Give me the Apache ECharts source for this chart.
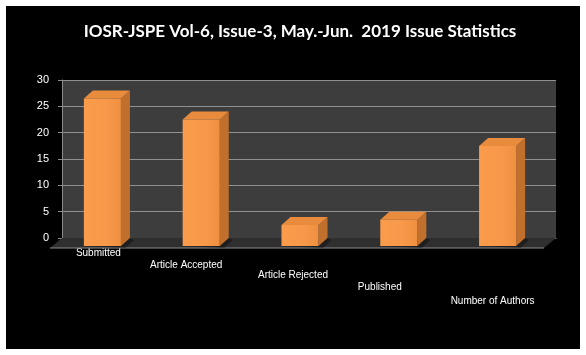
<!DOCTYPE html>
<html>
<head>
<meta charset="utf-8">
<script src="https://cdn.jsdelivr.net/npm/echarts@6/dist/echarts.min.js"></script>
<style>
html,body{margin:0;padding:0;background:#ffffff;}
#wrap{position:absolute;left:6px;top:6px;width:574px;height:343px;background:#000;}
#chart{width:574px;height:343px;}
</style>
</head>
<body>
<div id="wrap"><div id="chart"></div></div>
<script>
// ---- data ----
const title = 'IOSR-JSPE Vol-6, Issue-3, May.-Jun.  2019 Issue Statistics';
const categories = ['Submitted', 'Article Accepted', 'Article Rejected', 'Published', 'Number of Authors'];
const values = [28, 24, 4, 5, 19];
const yMin = 0, yMax = 30, yStep = 5;

// ---- styling (not data) ----
const labelDrop = [0, 12, 22, 34, 48];
const labelShift = [26, 48, 32, 56, 28];
const DX = 9, DY = 8;     // depth offset of bars
const FX = 12, FY = 10;   // floor depth

const chart = echarts.init(document.getElementById('chart'), null, {renderer: 'canvas'});

const rich = {};
categories.forEach((c, i) => {
  rich['l' + i] = {
    color: '#ffffff', fontSize: 10, fontFamily: 'Liberation Sans',
    padding: [labelDrop[i], labelShift[i], 0, 0]
  };
});

function barItem(params, api) {
  const i = api.value(0), v = api.value(1);
  const b = api.coord([i, 0]);
  const t = api.coord([i, v]);
  const w = api.size([1, 0])[0] * 0.375;
  const bl = b[0] - w / 2, br = b[0] + w / 2;
  const fl = bl - DX, fr = br - DX;
  const fTop = t[1] + DY, fBot = b[1] + DY;
  return {
    type: 'group',
    children: [
      { type: 'polygon', shape: { points: [[fl, fBot], [fr + DX * 0.5, fBot + 2], [br + 4, b[1] + 2], [br, b[1]]] },
        style: { fill: 'rgba(0,0,0,0.35)' } },
      { type: 'polygon', shape: { points: [[fr, fTop], [br, t[1]], [br, b[1]], [fr, fBot]] },
        style: { fill: '#c06f2c' } },
      { type: 'polygon', shape: { points: [[fl, fTop], [fr, fTop], [br, t[1]], [bl, t[1]]] },
        style: { fill: '#e88b3d' } },
      { type: 'rect', shape: { x: fl, y: fTop, width: w, height: fBot - fTop },
        style: { fill: new echarts.graphic.LinearGradient(0, 0, 1, 0, [
          { offset: 0, color: '#fa9c4c' }, { offset: 0.6, color: '#f8984a' }, { offset: 1, color: '#ef8f40' }]) } }
    ]
  };
}

function floorItem(params, api) {
  const cs = params.coordSys;
  const y0 = cs.y + cs.height;
  return {
    type: 'group',
    children: [
      { type: 'polygon', shape: { points: [[cs.x, y0], [cs.x + cs.width, y0], [cs.x + cs.width - FX, y0 + FY], [cs.x - FX, y0 + FY]] },
        style: { fill: '#2f2f2f' } },
      { type: 'line', shape: { x1: cs.x - FX, y1: y0 + FY, x2: cs.x + cs.width - FX, y2: y0 + FY },
        style: { stroke: '#8a8a8a', lineWidth: 1 } }
    ]
  };
}

const option = {
  backgroundColor: '#000000',
  animation: false,
  title: {
    text: title,
    left: 289, top: 12, textAlign: 'center',
    textStyle: { color: '#ffffff', fontSize: 17, fontWeight: 'bold', fontFamily: 'Lato' }
  },
  grid: { left: 56, right: 24, top: 74, bottom: 111, backgroundColor: '#3d3d3d', show: true, borderWidth: 0 },
  xAxis: {
    type: 'category', data: categories,
    axisLine: { show: true, lineStyle: { color: '#8a8a8a' } },
    axisTick: { show: false },
    axisLabel: {
      interval: 0, margin: 10, hideOverlap: false,
      formatter: (val, idx) => '{l' + idx + '|' + val + '}',
      rich: rich
    }
  },
  yAxis: {
    type: 'value', min: yMin, max: yMax, interval: yStep,
    axisLine: { show: true, lineStyle: { color: '#8a8a8a' } },
    axisTick: { show: true, length: 4, lineStyle: { color: '#8a8a8a' } },
    axisLabel: { color: '#ffffff', fontSize: 11, fontFamily: 'Liberation Sans', margin: 13 },
    splitLine: { show: true, lineStyle: { color: '#909090', width: 1 } }
  },
  series: [
    { type: 'custom', renderItem: floorItem, data: [[0, 0]], z: 1, silent: true },
    { type: 'custom', renderItem: barItem, data: values.map((v, i) => [i, v]), encode: { x: 0, y: 1 }, z: 3 }
  ]
};
chart.setOption(option);
</script>
</body>
</html>
